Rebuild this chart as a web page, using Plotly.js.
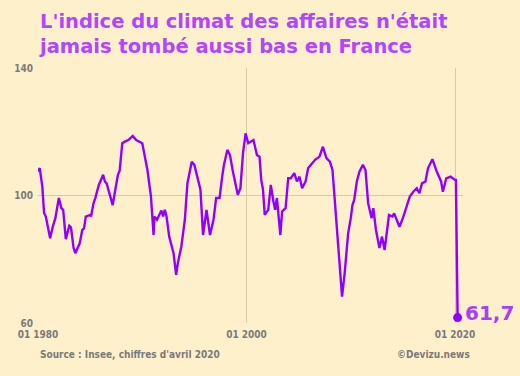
<!DOCTYPE html>
<html>
<head>
<meta charset="utf-8">
<script src="https://cdn.plot.ly/plotly-3.0.1.min.js"></script>
<style>html,body{margin:0;padding:0;background:#fff0cc;}#chart{width:520px;height:376px;}</style>
</head>
<body>
<div id="chart"></div>
<script>
const dates = ["1980-01","1980-03","1980-06","1980-08","1980-10","1981-03","1981-06","1981-09","1982-01","1982-04","1982-06","1982-09","1983-01","1983-03","1983-06","1983-08","1984-01","1984-04","1984-06","1984-08","1985-01","1985-02","1985-05","1985-07","1985-11","1986-04","1986-06","1986-08","1987-03","1987-06","1987-09","1987-11","1988-02","1988-05","1988-09","1989-02","1989-06","1990-01","1990-04","1990-07","1990-11","1991-02","1991-03","1991-06","1991-11","1992-01","1992-03","1992-05","1992-08","1993-01","1993-04","1993-06","1993-10","1994-02","1994-05","1994-10","1995-01","1995-05","1995-08","1995-11","1996-03","1996-07","1996-11","1997-02","1997-06","1997-09","1997-11","1998-03","1998-06","1998-09","1999-01","1999-03","1999-06","1999-09","1999-12","2000-03","2000-09","2001-01","2001-04","2001-06","2001-08","2001-10","2002-02","2002-05","2002-08","2002-10","2002-12","2003-04","2003-06","2003-10","2004-01","2004-04","2004-08","2004-11","2005-02","2005-05","2005-09","2005-12","2006-03","2006-08","2007-01","2007-03","2007-05","2007-09","2008-01","2008-04","2008-07","2008-09","2008-11","2009-03","2009-06","2009-10","2010-01","2010-03","2010-05","2010-08","2010-11","2011-03","2011-06","2011-09","2012-01","2012-03","2012-06","2012-10","2013-01","2013-04","2013-09","2014-01","2014-03","2014-09","2015-01","2015-09","2016-01","2016-05","2016-08","2016-11","2017-03","2017-06","2017-11","2018-04","2018-09","2018-11","2019-03","2019-08","2020-01","2020-02","2020-04"];
const values = [107.5,108.6,102.8,94.5,93.4,86.6,90.2,92.9,99.2,96.0,95.5,86.3,90.5,90.0,83.5,81.9,85.0,89.2,89.7,93.4,93.9,93.4,97.6,99.2,103.3,106.5,104.4,103.8,97.0,101.2,106.5,107.8,116.4,116.9,117.4,118.7,117.4,116.4,112.2,108.0,99.7,87.6,93.4,92.4,95.3,93.4,95.5,93.4,87.1,81.9,75.1,78.8,84.0,92.4,103.8,110.6,109.6,105.4,101.8,87.6,95.5,87.6,92.4,99.2,99.2,105.9,109.6,114.3,112.7,108.0,102.3,100.2,102.3,113.3,119.5,116.4,117.4,112.7,112.2,104.9,101.8,93.9,95.5,103.3,98.1,95.5,99.2,87.6,95.0,96.0,105.4,105.4,107.0,104.4,105.9,102.3,104.4,108.6,109.6,111.2,112.2,113.8,115.3,111.7,110.6,108.0,96.5,89.2,81.9,68.3,75.6,88.1,92.9,97.0,98.6,104.4,107.5,109.6,108.0,97.6,92.9,96.0,89.2,83.5,87.1,82.9,93.9,93.4,94.4,90.2,92.9,99.7,101.2,102.3,100.7,103.8,104.4,108.6,111.4,107.5,104.4,101.2,105.4,105.9,104.9,104.9,61.7];
const lastDate = ["2020-04"];
const lastValue = [61.7];
const lastLabel = "61,7";
const xTicks = ["1980-01-01","2000-01-01","2020-01-01"];
const xTickText = ["01 1980","01 2000","01 2020"];
const yTicks = [60,100,140];

const purple = "#9100ff";
const grey = "#7a7a7a";
const font = "DejaVu Sans, Verdana, sans-serif";
const smallFont = "DejaVu Sans Condensed, Liberation Sans, sans-serif";

const data = [
  {x: dates, y: values, type: "scatter", mode: "lines", line: {color: purple, width: 2.4}, hoverinfo: "skip"},
  {x: lastDate, y: lastValue, type: "scatter", mode: "markers", marker: {color: purple, size: 9}, cliponaxis: false, hoverinfo: "skip"}
];
const layout = {
  width: 520, height: 376,
  paper_bgcolor: "#fff0cc", plot_bgcolor: "#fff0cc",
  margin: {l: 38, r: 57, t: 68, b: 53},
  showlegend: false,
  xaxis: {type: "date", range: ["1980-01-01", "2020-10-07"], tickvals: xTicks, ticktext: xTickText,
    showgrid: true, gridcolor: "#d9c9a6", gridwidth: 1, zeroline: false, showline: false, ticks: "",
    ticklabelstandoff: 4,
    tickfont: {family: smallFont, size: 10, color: grey, weight: "bold"}, fixedrange: true},
  yaxis: {range: [60, 140], tickvals: yTicks, showgrid: true, gridcolor: "#d9c9a6", gridwidth: 1,
    zeroline: false, showline: false, ticks: "", ticklabelstandoff: 4,
    tickfont: {family: smallFont, size: 10, color: grey, weight: "bold"}, fixedrange: true},
  annotations: [
    {xref: "paper", yref: "paper", x: 0, y: (323 - 9) / 255, xanchor: "left", yanchor: "top", align: "left",
      showarrow: false, borderpad: 0,
      text: "L'indice du climat des affaires n'était<br>jamais tombé aussi bas en France",
      font: {family: font, size: 19.5, color: "#b146ff", weight: "bold"}},
    {x: lastDate[0], y: lastValue[0], xref: "x", yref: "y", text: lastLabel, showarrow: false,
      xanchor: "left", yanchor: "middle", xshift: 5, yshift: 5,
      font: {family: font, size: 20, color: "#a640f7", weight: "bold"}},
    {xref: "paper", yref: "paper", x: 0, y: -0.125, xanchor: "left", yanchor: "middle", showarrow: false,
      text: "Source : Insee, chiffres d'avril 2020", font: {family: smallFont, size: 10, color: grey, weight: "bold"}},
    {xref: "paper", yref: "paper", x: (472-38)/425, y: -0.125, xanchor: "right", yanchor: "middle", showarrow: false,
      text: "©Devizu.news", font: {family: smallFont, size: 10, color: grey, weight: "bold"}}
  ]
};
Plotly.newPlot("chart", data, layout, {staticPlot: true, displayModeBar: false});
</script>
</body>
</html>
